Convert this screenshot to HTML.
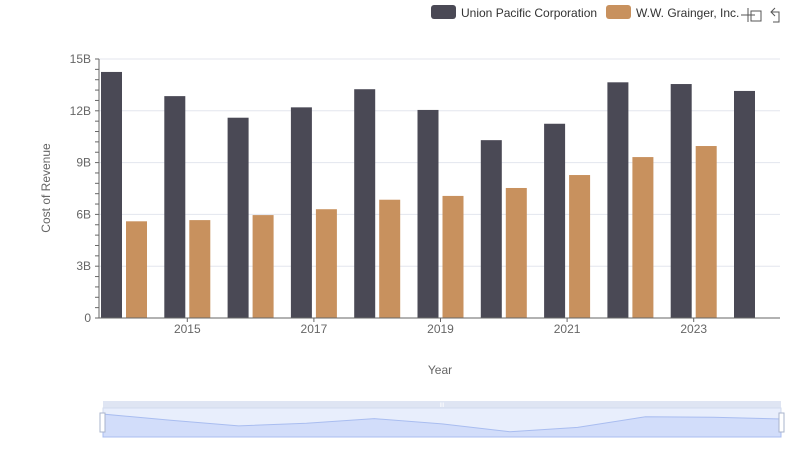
<!DOCTYPE html>
<html><head><meta charset="utf-8"><style>
body{margin:0;background:#fff;font-family:"Liberation Sans",sans-serif;}
svg text{font-family:"Liberation Sans",sans-serif;}
</style></head><body>
<svg width="800" height="461" id="c">
<g>
 <g><rect x="431" y="5" width="25" height="14" rx="3" fill="#4a4955"/><text x="461" y="17" font-size="12" fill="#333">Union Pacific Corporation</text></g>
 <g><rect x="606" y="5" width="25" height="14" rx="3" fill="#c8915e"/><text x="636" y="17" font-size="12" fill="#333">W.W. Grainger, Inc.</text></g>
 <g stroke="#555" fill="none"><path d="M748 8v14M741 15h14"/><rect x="751" y="11" width="10" height="10"/></g>
 <g stroke="#555" fill="none"><path d="M775 8l-4 4 4 4M771 12h8v10h-6"/></g>
</g>
<g id="grid"></g>
<g id="bars"></g>
<g id="axes"></g>
<text transform="translate(50,188) rotate(-90)" text-anchor="middle" font-size="12" fill="#666">Cost of Revenue</text>
<text x="440" y="374" text-anchor="middle" font-size="12" fill="#666">Year</text>
<g>
 <rect x="103" y="401" width="678" height="7" fill="#dfe5f3"/>
 <rect x="103" y="408" width="678" height="29" fill="#e8eefc" stroke="#d2dbee"/>
 <path id="zpath" fill="#d2ddfa" stroke="#a9bdf0"/>
 <rect x="100" y="413" width="5" height="19" fill="#fff" stroke="#aab4cc"/>
 <rect x="779" y="413" width="5" height="19" fill="#fff" stroke="#aab4cc"/>
 <text x="442" y="407" font-size="6" fill="#fff" text-anchor="middle">III</text>
</g>
</svg>
<script>
const years=[2014,2015,2016,2017,2018,2019,2020,2021,2022,2023,2024];
const unp=[14.25,12.85,11.6,12.2,13.25,12.05,10.3,11.25,13.65,13.55,13.15];
const gww=[5.6,5.67,5.96,6.3,6.85,7.07,7.53,8.28,9.32,9.96,null];
const yTicks=[0,3,6,9,12,15];
const yTickLabels=["0","3B","6B","9B","12B","15B"];
const NS="http://www.w3.org/2000/svg";
const y0=318,yTop=59,yMax=15;
function y(v){return y0-(v/yMax)*(y0-yTop);}
function cx(i){return 124+63.3*i;}
function mk(t,a,p){const e=document.createElementNS(NS,t);for(const k in a)e.setAttribute(k,a[k]);p.appendChild(e);return e;}
const grid=document.getElementById('grid'),bars=document.getElementById('bars'),axes=document.getElementById('axes');
yTicks.forEach((t,i)=>{
 const l=mk('line',{x1:99,x2:780,y1:y(t),y2:y(t),stroke:'#e3e6ee'},grid);
 
 
 const tx=mk('text',{x:91,y:y(t)+4,'text-anchor':'end','font-size':12,fill:'#666'},axes);
 tx.textContent=yTickLabels[i];
 
 
});
for(let v=0;v<yMax;v+=0.6){mk('line',{x1:95,x2:99,y1:y(v),y2:y(v),stroke:'#666'},axes);}
mk('line',{x1:99,x2:99,y1:y0,y2:yTop,stroke:'#666'},axes);
mk('line',{x1:99,x2:780,y1:y0,y2:y0,stroke:'#666'},axes);
years.forEach((yr,i)=>{
 const b=mk('rect',{x:cx(i)-23,y:y(unp[i]),width:21,height:y0-y(unp[i]),fill:'#4a4955'},bars);
 
 
 if(gww[i]!=null){
  const g=mk('rect',{x:cx(i)+2,y:y(gww[i]),width:21,height:y0-y(gww[i]),fill:'#c8915e'},bars);
  
  
 }
 if(i%2==1){
  mk('line',{x1:cx(i),x2:cx(i),y1:y0,y2:y0+4,stroke:'#666'},axes);
  const t=mk('text',{x:cx(i),y:y0+15,'text-anchor':'middle','font-size':12,fill:'#666'},axes);
  t.textContent=yr;
  
  
 }
});
let d='M103 437';
const mn=10,mx=14.5;
unp.forEach((v,i)=>{const px=103+678*i/(years.length-1);const py=413+(mx-v)/(mx-mn)*20;d+=' L'+px.toFixed(1)+' '+py.toFixed(1);});
d+=' L781 437 Z';
document.getElementById('zpath').setAttribute('d',d);
</script>
</body></html>
